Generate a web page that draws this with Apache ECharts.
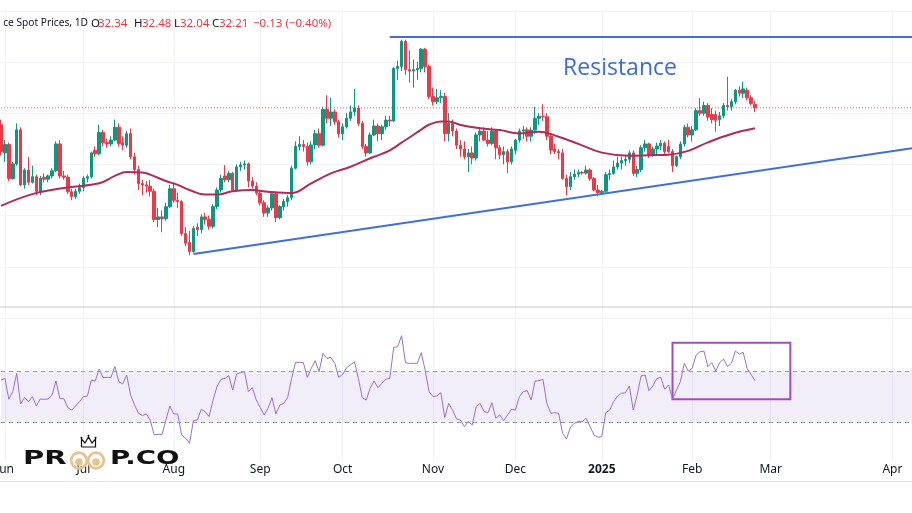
<!DOCTYPE html>
<html>
<head>
<meta charset="utf-8">
<title>Silver spot prices, 1D</title>
<script src="https://cdn.jsdelivr.net/npm/echarts@6/dist/echarts.min.js"></script>
<style>
  html, body { margin: 0; padding: 0; background: #fff; }
  #chart { width: 912px; height: 513px; }
</style>
</head>
<body>
<div id="chart"></div>
<script>
// daily candles [open, high, low, close], one row per trading day from 31 May 2024 to 25 Feb 2025
const ohlc = [
  [31.55, 31.75, 30.35, 30.5],
  // Jun
  [30.45, 30.95, 30.1, 30.78], [30.78, 30.85, 29.35, 29.45], [29.45, 30.1, 29.4, 30.02], [30.02, 31.6, 29.95, 31.35], [31.35, 31.45, 29.15, 29.2],
  [29.2, 29.85, 29.05, 29.78], [29.78, 30.3, 29.2, 29.3], [29.3, 29.95, 29.25, 29.52], [29.52, 29.6, 28.8, 28.95], [28.95, 29.55, 28.8, 29.46],
  [29.5, 29.65, 29.3, 29.42], [29.42, 29.6, 29.3, 29.55], [29.55, 29.85, 29.45, 29.75], [29.75, 30.9, 29.7, 30.8], [30.8, 30.95, 29.45, 29.55],
  [29.55, 29.75, 29.4, 29.5], [29.5, 29.6, 28.85, 28.93], [28.93, 29.05, 28.6, 28.74], [28.74, 29.05, 28.65, 28.95], [28.95, 29.25, 28.85, 29.1],
  // Jul
  [29.1, 29.55, 28.95, 29.46], [29.46, 29.6, 29.3, 29.52], [29.52, 30.5, 29.45, 30.45], [30.55, 30.7, 30.3, 30.42], [30.42, 31.55, 30.35, 31.25],
  [31.25, 31.35, 30.7, 30.85], [30.85, 31.0, 30.65, 30.8], [30.8, 31.1, 30.7, 30.95], [30.95, 31.75, 30.9, 31.45], [31.45, 31.6, 30.7, 30.82],
  [30.85, 31.1, 30.55, 30.75], [30.75, 31.3, 30.65, 31.2], [31.2, 31.4, 30.2, 30.3], [30.3, 30.45, 29.6, 29.8], [29.8, 29.95, 29.0, 29.25],
  [29.25, 29.4, 28.8, 29.2], [29.2, 29.35, 28.9, 29.15], [29.15, 29.4, 28.75, 28.95], [28.95, 29.05, 27.75, 27.85], [27.85, 28.3, 27.55, 27.95],
  [27.95, 28.2, 27.35, 27.88], [27.88, 28.5, 27.8, 28.35], [28.35, 29.2, 28.3, 29.05],
  // Aug
  [29.05, 29.3, 28.5, 28.6], [28.6, 28.9, 28.3, 28.55], [28.55, 28.6, 27.2, 27.3], [27.3, 27.55, 26.8, 26.92], [26.95, 27.4, 26.45, 26.6],
  [26.6, 27.6, 26.55, 27.5], [27.55, 27.7, 27.2, 27.45], [27.45, 28.05, 27.3, 27.95], [27.95, 28.1, 27.65, 27.85], [27.85, 28.0, 27.45, 27.58],
  [27.58, 28.45, 27.5, 28.35], [28.35, 29.1, 28.25, 29.0], [29.0, 29.6, 28.9, 29.45], [29.55, 29.98, 29.3, 29.4], [29.4, 29.75, 29.3, 29.65],
  [29.65, 29.7, 28.95, 29.0], [29.0, 30.0, 28.95, 29.9], [29.9, 30.1, 29.75, 29.98], [29.98, 30.15, 29.8, 30.02], [30.02, 30.08, 29.1, 29.35],
  [29.35, 29.5, 29.05, 29.15], [29.15, 29.3, 28.8, 28.88],
  // Sep
  [28.88, 28.95, 28.4, 28.5], [28.5, 28.6, 27.95, 28.1], [28.1, 28.4, 27.95, 28.3], [28.3, 28.95, 28.2, 28.85], [28.85, 28.95, 27.75, 27.92],
  [27.92, 28.4, 27.85, 28.35], [28.35, 28.65, 28.2, 28.55], [28.55, 28.8, 28.35, 28.7], [28.7, 29.95, 28.6, 29.85], [29.85, 30.9, 29.8, 30.7],
  [30.7, 31.1, 30.55, 30.78], [30.78, 30.95, 30.5, 30.7], [30.7, 30.85, 29.95, 30.1], [30.1, 30.9, 30.0, 30.76], [30.76, 31.35, 30.6, 31.2],
  [31.2, 31.4, 30.65, 30.75], [30.75, 32.25, 30.7, 32.15], [32.15, 32.7, 31.6, 31.8], [31.8, 32.6, 31.5, 32.05], [32.05, 32.15, 31.55, 31.67],
  [31.67, 31.75, 31.05, 31.2],
  // Oct
  [31.2, 31.6, 30.95, 31.47], [31.47, 32.0, 31.4, 31.8], [31.8, 32.3, 31.7, 32.05], [32.05, 32.95, 31.9, 32.2], [32.2, 32.3, 31.5, 31.6],
  [31.6, 31.7, 30.6, 30.7], [30.7, 30.8, 30.3, 30.45], [30.45, 31.25, 30.4, 31.15], [31.15, 31.75, 31.1, 31.5], [31.5, 31.6, 30.9, 31.2],
  [31.2, 31.55, 30.95, 31.47], [31.47, 31.9, 31.35, 31.73], [31.73, 31.9, 31.5, 31.7], [31.7, 33.8, 31.65, 33.75], [33.75, 34.05, 33.3, 33.82],
  [33.82, 34.87, 33.65, 34.8], [34.8, 34.87, 33.5, 33.7], [33.7, 34.45, 33.2, 33.65], [33.65, 34.1, 33.0, 33.7], [33.7, 34.0, 33.3, 33.75],
  [33.75, 34.55, 33.6, 34.5], [34.5, 34.55, 33.6, 33.82], [33.82, 33.9, 32.55, 32.65],
  // Nov
  [32.65, 33.0, 32.3, 32.45], [32.45, 32.95, 32.35, 32.6], [32.6, 32.9, 32.4, 32.65], [32.65, 32.8, 30.9, 31.2], [31.2, 32.0, 30.9, 31.6],
  [31.6, 31.75, 31.1, 31.3], [31.3, 31.4, 30.6, 30.75], [30.75, 30.95, 30.3, 30.6], [30.6, 30.9, 30.2, 30.3], [30.3, 30.6, 29.7, 30.45],
  [30.45, 30.7, 30.0, 30.25], [30.25, 31.25, 30.15, 31.15], [31.15, 31.45, 30.9, 31.3], [31.3, 31.45, 30.9, 30.95], [30.95, 31.3, 30.7, 30.82],
  [30.82, 31.45, 30.75, 31.3], [31.3, 31.35, 30.2, 30.65], [30.65, 30.75, 30.2, 30.38], [30.38, 30.7, 30.0, 30.5], [30.5, 30.6, 29.65, 30.1],
  [30.1, 30.7, 30.0, 30.6],
  // Dec
  [30.55, 31.0, 30.4, 30.95], [30.95, 31.4, 30.85, 31.3], [31.3, 31.5, 31.0, 31.35], [31.35, 31.45, 30.9, 31.1], [31.1, 31.45, 30.9, 31.34],
  [31.34, 32.25, 31.2, 31.8], [31.8, 32.0, 31.55, 31.88], [31.88, 32.35, 31.7, 31.86], [31.86, 32.0, 30.95, 31.1], [31.1, 31.2, 30.4, 30.56],
  [30.6, 30.8, 30.4, 30.5], [30.5, 30.6, 30.2, 30.45], [30.45, 30.6, 29.4, 29.45], [29.45, 29.6, 28.8, 29.13], [29.13, 29.7, 29.0, 29.52],
  [29.52, 29.8, 29.4, 29.62], [29.62, 29.8, 29.5, 29.68], [29.68, 29.75, 29.6, 29.66], [29.66, 29.95, 29.6, 29.78], [29.78, 29.85, 29.35, 29.45],
  [29.45, 29.5, 28.95, 29.0], [29.0, 29.2, 28.75, 28.9],
  // Jan
  [28.9, 29.0, 28.8, 28.95], [28.95, 29.7, 28.9, 29.6], [29.6, 29.8, 29.4, 29.65], [29.65, 30.15, 29.6, 29.9], [29.9, 30.3, 29.8, 30.05],
  [30.05, 30.3, 29.8, 30.15], [30.15, 30.35, 29.95, 30.2], [30.2, 30.55, 30.05, 30.45], [30.45, 30.55, 29.55, 29.65], [29.65, 29.95, 29.5, 29.8],
  [29.8, 30.75, 29.7, 30.65], [30.65, 30.95, 30.5, 30.8], [30.8, 30.85, 30.25, 30.4], [30.4, 30.7, 30.3, 30.6], [30.6, 30.85, 30.4, 30.72],
  [30.72, 30.95, 30.55, 30.83], [30.83, 30.9, 30.4, 30.5], [30.7, 30.95, 30.45, 30.5], [30.5, 30.6, 29.7, 29.95], [29.95, 30.35, 29.9, 30.3],
  [30.3, 30.9, 30.2, 30.8], [30.8, 31.55, 30.7, 31.45], [31.45, 31.6, 31.05, 31.15],
  // Feb
  [31.15, 31.5, 30.9, 31.35], [31.35, 32.2, 31.3, 32.1], [32.1, 32.6, 31.9, 32.0], [32.0, 32.45, 31.9, 32.3], [32.3, 32.4, 31.7, 31.85],
  [31.95, 32.2, 31.6, 31.75], [31.95, 32.1, 31.28, 31.72], [31.75, 32.05, 31.5, 31.9], [31.9, 32.4, 31.8, 32.3], [32.3, 33.43, 32.1, 32.26],
  [32.26, 32.55, 32.1, 32.45], [32.45, 32.95, 32.35, 32.9], [32.9, 33.05, 32.65, 32.78], [32.78, 33.23, 32.6, 32.95], [32.9, 33.0, 32.5, 32.6],
  [32.6, 32.7, 32.3, 32.38], [32.34, 32.48, 32.04, 32.21]
]

// moving average: bar index -> value
const maIdx = [0, 8, 17, 25, 29, 32, 36, 38, 42, 45, 48, 52, 55, 59, 64, 68, 74, 79, 84, 89, 94, 96, 99, 102, 104, 107, 109, 112, 114, 117, 122, 127, 132, 137, 142, 147, 153, 160, 165, 170, 175, 180, 186, 192]
const maVal = [28.38, 28.84, 29.1, 29.26, 29.55, 29.7, 29.68, 29.6, 29.35, 29.2, 29.0, 28.82, 28.82, 28.95, 29.0, 28.93, 28.88, 29.26, 29.65, 29.91, 30.24, 30.35, 30.55, 30.85, 31.05, 31.36, 31.55, 31.68, 31.68, 31.54, 31.41, 31.34, 31.21, 31.28, 31.08, 30.8, 30.46, 30.34, 30.36, 30.38, 30.53, 30.86, 31.19, 31.41]

// RSI, one value per bar
const rsi = [
  63.4, 64.7, 48.2, 54.2, 68.7, 44.5, 49.7, 46.3, 50.3, 42.9,
  48.4, 48.2, 48.4, 51.6, 62.6, 48.7, 48.7, 41.6, 39.7, 42.9,
  46.3, 50.3, 50.8, 63.4, 62.6, 72.1, 65.3, 65.5, 65.5, 74.0,
  62.1, 60.3, 67.4, 51.6, 43.7, 37.1, 35.3, 36.6, 31.8, 20.0,
  20.5, 20.3, 31.8, 42.9, 36.6, 36.6, 20.0, 17.4, 13.4, 31.3,
  31.8, 40.3, 38.4, 34.5, 47.6, 58.2, 64.0, 64.7, 66.8, 55.5,
  68.2, 69.2, 70.0, 54.2, 57.4, 47.6, 41.8, 35.8, 41.1, 49.5,
  36.6, 43.7, 45.0, 49.7, 64.7, 77.4, 77.4, 77.1, 65.5, 72.6,
  78.7, 70.0, 84.5, 80.5, 81.3, 76.6, 65.5, 67.9, 73.2, 75.3,
  77.9, 64.7, 49.5, 47.6, 56.9, 62.6, 57.4, 60.8, 64.0, 64.7,
  89.2, 89.7, 98.4, 77.1, 76.6, 76.6, 76.6, 85.0, 71.3, 54.2,
  50.3, 50.8, 53.4, 33.7, 45.0, 39.5, 32.6, 31.8, 26.6, 30.5,
  27.9, 42.4, 45.0, 38.4, 37.6, 45.5, 33.2, 35.8, 31.3, 35.8,
  40.3, 39.7, 50.3, 54.2, 55.0, 47.6, 62.6, 62.9, 64.0, 45.0,
  37.1, 37.6, 37.1, 21.3, 16.8, 26.1, 29.2, 30.5, 30.5, 33.2,
  26.6, 20.0, 18.2, 18.7, 37.6, 39.7, 46.3, 50.8, 52.9, 53.4,
  58.7, 39.7, 51.6, 66.6, 67.4, 55.0, 58.7, 64.7, 65.5, 56.1,
  59.5, 48.2, 55.5, 62.1, 76.6, 70.5, 72.6, 83.2, 85.8, 86.3,
  74.0, 77.1, 70.5, 77.1, 80.0, 74.0, 76.6, 86.3, 83.9, 85.3,
  72.6, 67.9, 62.9
]

const monthNames = ['Jan', 'Feb', 'Mar', 'Apr', 'May', 'Jun', 'Jul', 'Aug', 'Sep', 'Oct', 'Nov', 'Dec']

// drawings: [bar index, price]
const resistanceLine = [[99, 35.0], [233, 35.0]]
const supportLine = [[49, 26.5], [233, 30.65]]
// box on the RSI pane: [bar index, rsi]
const rsiBox = [[171, 92.9], [201, 48.2]]

const up = '#089981'
const down = '#f23645'
const gridColor = '#f0f2f6'
const textColor = '#131722'

// trading days for the bars, then plain calendar days for the empty space on the right
const categories = []
const d = new Date(Date.UTC(2024, 4, 31))
while (categories.length < ohlc.length) {
  const wd = d.getUTCDay()
  if (wd !== 0 && wd !== 6) categories.push(d.toISOString().slice(0, 10))
  d.setUTCDate(d.getUTCDate() + 1)
}
while (categories[categories.length - 1] < '2025-04-07') {
  categories.push(d.toISOString().slice(0, 10))
  d.setUTCDate(d.getUTCDate() + 1)
}

function isMonthStart(i) {
  return i > 0 && categories[i].slice(5, 7) !== categories[i - 1].slice(5, 7)
}

const candleData = ohlc.map(r => [r[0], r[3], r[2], r[1]])
const maData = maIdx.map((idx, k) => [idx, maVal[k]])
const last = ohlc[ohlc.length - 1]
const lastPrice = new Array(categories.length).fill(last[3])

function legendText(x, text, color, align, size) {
  return {
    type: 'text', z: 60, x: x, y: 23.5,
    style: { text: text, align: align || 'left', verticalAlign: 'middle', font: (size || 11.5) + 'px "Noto Sans"', fill: color }
  }
}

const chart = echarts.init(document.getElementById('chart'))
chart.setOption({
  animation: false,
  grid: [
    { left: 1, width: 915, top: 10.8, height: 307.2, outerBoundsMode: 'none', containLabel: false },
    { left: 1, width: 915, top: 321.1, height: 139.15, outerBoundsMode: 'none', containLabel: false }
  ],
  xAxis: [
    {
      type: 'category', gridIndex: 0, data: categories, boundaryGap: false,
      axisLine: { show: false }, axisTick: { show: false }, axisLabel: { show: false },
      splitLine: { show: true, interval: isMonthStart, lineStyle: { color: gridColor, width: 1 } }
    },
    {
      type: 'category', gridIndex: 1, data: categories, boundaryGap: false,
      axisLine: { show: false }, axisTick: { show: false },
      axisLabel: {
        interval: isMonthStart,
        margin: 3,
        color: textColor,
        fontSize: 12,
        fontFamily: 'Noto Sans',
        formatter: v => {
          const m = +v.slice(5, 7)
          return m === 1 ? '{y|' + v.slice(0, 4) + '}' : monthNames[m - 1]
        },
        rich: { y: { fontWeight: 'bold', fontSize: 12, fontFamily: 'Noto Sans', color: textColor } }
      },
      splitLine: { show: true, interval: isMonthStart, lineStyle: { color: gridColor, width: 1 } }
    }
  ],
  yAxis: [
    {
      type: 'value', gridIndex: 0, min: 24, max: 36, interval: 2,
      axisLine: { show: false }, axisTick: { show: false }, axisLabel: { show: false },
      splitLine: { show: true, lineStyle: { color: gridColor, width: 1 } }
    },
    {
      type: 'value', gridIndex: 1, min: 0, max: 110,
      axisLine: { show: false }, axisTick: { show: false }, axisLabel: { show: false },
      splitLine: { show: false }
    }
  ],
  series: [
    {
      // last close, dotted across the pane
      name: 'last',
      type: 'line',
      xAxisIndex: 0,
      yAxisIndex: 0,
      data: lastPrice,
      symbol: 'none',
      silent: true,
      z: 1,
      lineStyle: { color: down, type: [1, 2], width: 1, opacity: 0.8 }
    },
    {
      name: 'price',
      type: 'candlestick',
      xAxisIndex: 0,
      yAxisIndex: 0,
      data: candleData,
      barWidth: 3,
      itemStyle: { color: up, color0: down, borderColor: up, borderColor0: down, borderWidth: 1 },
      markLine: {
        silent: true,
        symbol: ['none', 'none'],
        label: { show: false },
        lineStyle: { color: '#3f6fdc', type: 'solid', width: 2 },
        data: [
          [{ coord: resistanceLine[0] }, { coord: resistanceLine[1] }],
          [{ coord: supportLine[0] }, { coord: supportLine[1] }]
        ]
      }
    },
    {
      name: 'MA',
      type: 'line',
      xAxisIndex: 0,
      yAxisIndex: 0,
      data: maData,
      smooth: 0.4,
      symbol: 'none',
      lineStyle: { color: '#b22a5a', width: 2 }
    },
    {
      name: 'RSI',
      type: 'line',
      xAxisIndex: 1,
      yAxisIndex: 1,
      data: rsi,
      symbol: 'none',
      lineStyle: { color: '#9670d2', width: 1 },
      markArea: {
        silent: true,
        data: [
          [{ yAxis: 70, itemStyle: { color: 'rgba(126,87,194,0.1)' } }, { yAxis: 30 }],
          [
            { coord: rsiBox[0], itemStyle: { color: 'rgba(0,0,0,0)', borderColor: '#a04cc2', borderWidth: 2 } },
            { coord: rsiBox[1] }
          ]
        ]
      },
      markLine: {
        silent: true,
        symbol: ['none', 'none'],
        label: { show: false },
        lineStyle: { color: '#9598a1', type: [4, 4], width: 1 },
        data: [{ yAxis: 70 }, { yAxis: 30 }]
      }
    }
  ],
  graphic: [
    // pane separator and bottom edge
    { type: 'rect', z: 50, shape: { x: 0, y: 306, width: 912, height: 2 }, style: { fill: '#e0e3eb' } },
    { type: 'rect', z: 50, shape: { x: 0, y: 481, width: 912, height: 1 }, style: { fill: '#e0e3eb' } },
    // legend line
    legendText(88, 'ce Spot Prices, 1D', textColor, 'right', 10.2),
    legendText(91, 'O', textColor),
    legendText(98, last[0].toFixed(2), down),
    legendText(134, 'H', textColor),
    legendText(142, last[1].toFixed(2), down),
    legendText(174, 'L', textColor),
    legendText(180, last[2].toFixed(2), down),
    legendText(212, 'C', textColor),
    legendText(219, last[3].toFixed(2), down),
    legendText(253, '\u22120.13 (\u22120.40%)', down),
    // annotation
    { type: 'text', z: 60, x: 620, y: 68, style: { text: 'Resistance', align: 'center', verticalAlign: 'middle', font: '23px "Open Sans"', fill: '#3d6bd8' } },
    // watermark logo
    { type: 'text', z: 60, x: 23, y: 458.5, scaleX: 1.45, style: { text: 'PR', verticalAlign: 'middle', font: 'bold 20px "DejaVu Sans"', fill: '#111' } },
    { type: 'circle', z: 60, shape: { cx: 79, cy: 460.5, r: 7.8 }, style: { fill: 'none', stroke: '#e8c38c', lineWidth: 2.8 } },
    { type: 'circle', z: 60, shape: { cx: 96, cy: 460.5, r: 7.8 }, style: { fill: 'none', stroke: '#e8c38c', lineWidth: 2.8 } },
    { type: 'circle', z: 60, shape: { cx: 79, cy: 462, r: 3.8 }, style: { fill: '#e8c38c' } },
    { type: 'circle', z: 60, shape: { cx: 96, cy: 462, r: 3.8 }, style: { fill: '#e8c38c' } },
    {
      type: 'polyline', z: 60,
      shape: { points: [[81.5, 447], [81.5, 439], [85, 443], [88.5, 437], [92, 443], [95.5, 439], [95.5, 447], [81.5, 447]] },
      style: { fill: 'none', stroke: '#111', lineWidth: 1.2 }
    },
    { type: 'circle', z: 60, shape: { cx: 81.5, cy: 437.8, r: 1 }, style: { fill: '#111' } },
    { type: 'circle', z: 60, shape: { cx: 88.5, cy: 435.8, r: 1 }, style: { fill: '#111' } },
    { type: 'circle', z: 60, shape: { cx: 95.5, cy: 437.8, r: 1 }, style: { fill: '#111' } },
    { type: 'text', z: 60, x: 110, y: 458.5, scaleX: 1.38, style: { text: 'P.CO', verticalAlign: 'middle', font: 'bold 20px "DejaVu Sans"', fill: '#111' } }
  ]
})
</script>
</body>
</html>
